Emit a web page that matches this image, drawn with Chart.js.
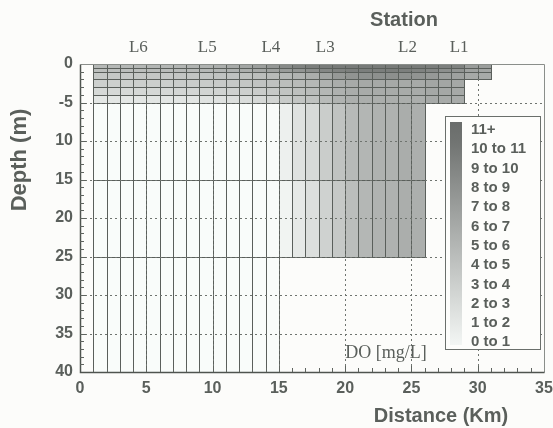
<!DOCTYPE html>
<html>
<head>
<meta charset="utf-8">
<script src="https://cdn.jsdelivr.net/npm/chart.js@4.4.0/dist/chart.umd.min.js"></script>
<style>
  html, body { margin: 0; padding: 0; background: #fcfcfa; }
  #wrap { width: 553px; height: 428px; }
</style>
</head>
<body>
<div id="wrap"><canvas id="chart" width="553" height="428"></canvas></div>
<script>
// column edges along the river (km) and layer edges (m)
const kmEdges = [1, 2, 3, 4, 5, 6, 7, 8, 9, 10, 11, 12, 13, 14, 15, 16, 17, 18, 19, 20, 21, 22, 23, 24, 25, 26, 27, 28, 29, 30, 31];
const layerTops = [0, 0.5, 1, 2, 3, 4, 5, 15, 25];
const layerBottoms = [0.5, 1, 2, 3, 4, 5, 15, 25, 40];

// DO (mg/L) per layer, one value per column (km 1-2 ... km 30-31), null = no cell
const do0to05 = [5.2, 5.2, 5.3, 5.3, 5.4, 5.4, 5.5, 5.6, 5.7, 6.0, 6.3, 6.7, 7.2, 7.8, 8.8, 9.4, 9.7, 9.9, 10.0, 10.0, 10.0, 10.0, 10.0, 10.0, 9.9, 9.8, 9.6, 9.4, 7.4, 7.2];
const do05to1 = [4.7, 4.7, 4.8, 4.8, 4.9, 4.9, 5.0, 5.1, 5.2, 5.4, 5.7, 6.0, 6.4, 6.9, 7.5, 7.9, 8.4, 9.0, 9.4, 9.6, 9.7, 9.7, 9.7, 9.6, 9.4, 9.0, 8.4, 8.0, 6.9, 6.7];
const do1to2 = [4.0, 4.0, 4.0, 4.1, 4.1, 4.1, 4.2, 4.2, 4.3, 4.4, 4.5, 4.6, 4.8, 5.0, 5.3, 5.6, 6.0, 6.8, 7.6, 8.0, 8.2, 8.3, 8.3, 8.2, 8.0, 7.6, 7.2, 7.0, 6.4, 6.3];
const do2to3 = [3.4, 3.4, 3.4, 3.5, 3.5, 3.5, 3.6, 3.6, 3.7, 3.8, 3.9, 4.1, 4.3, 4.5, 4.8, 5.0, 5.2, 5.6, 6.1, 6.3, 6.4, 6.4, 6.4, 6.3, 6.3, 6.6, 6.6, 6.5, null, null];
const do3to4 = [2.7, 2.7, 2.7, 2.8, 2.8, 2.8, 2.9, 2.9, 3.0, 3.1, 3.2, 3.4, 3.6, 3.9, 4.3, 4.6, 4.9, 5.3, 5.8, 6.1, 6.2, 6.2, 6.2, 6.2, 6.2, 6.5, 6.5, 6.4, null, null];
const do4to5 = [1.6, 1.6, 1.6, 1.7, 1.7, 1.7, 1.8, 1.8, 1.9, 2.0, 2.2, 2.4, 2.7, 3.1, 3.8, 4.2, 4.5, 5.0, 5.6, 5.9, 6.0, 6.0, 6.0, 6.0, 6.0, 6.3, 6.3, 6.2, null, null];
const do5to15 = [0.0, 0.0, 0.0, 0.0, 0.0, 0.0, 0.0, 0.0, 0.0, 0.0, 0.0, 0.0, 0.0, 0.1, 0.9, 2.0, 2.6, 3.6, 4.4, 5.1, 5.4, 5.7, 5.7, 6.1, 5.9, null, null, null, null, null];
const do15to25 = [0.0, 0.0, 0.0, 0.0, 0.0, 0.0, 0.0, 0.0, 0.0, 0.0, 0.0, 0.0, 0.0, 0.1, 0.6, 1.5, 2.2, 3.2, 3.9, 4.8, 5.3, 5.6, 5.7, 6.0, 5.9, null, null, null, null, null];
const do25to40 = [0.0, 0.0, 0.0, 0.0, 0.0, 0.0, 0.0, 0.0, 0.0, 0.0, 0.0, 0.0, 0.0, 0.0, null, null, null, null, null, null, null, null, null, null, null, null, null, null, null, null];
const doLayers = [do0to05, do05to1, do1to2, do2to3, do3to4, do4to5, do5to15, do15to25, do25to40];

const stationNames = ['L6', 'L5', 'L4', 'L3', 'L2', 'L1'];
const stationKm = [4.4, 9.6, 14.4, 18.5, 24.7, 28.6];

const depthTicks = [0, 5, 10, 15, 20, 25, 30, 35, 40];
const depthTickText = ['0', '-5', '10', '15', '20', '25', '30', '35', '40'];

const legendLabels = ['11+', '10 to 11', '9 to 10', '8 to 9', '7 to 8', '6 to 7', '5 to 6', '4 to 5', '3 to 4', '2 to 3', '1 to 2', '0 to 1'];

const SANS = '"Liberation Sans", Arial, sans-serif';
const SERIF = '"Liberation Serif", "Times New Roman", serif';
const TEXT = '#5a5f5b';
const LINE = '#5a5f5b';

function doColor(v) {
  const g = Math.round(252 - 13 * Math.min(v, 11));
  return `rgb(${g - 3},${g},${g - 2})`;
}

const sectionPlugin = {
  id: 'doSection',
  beforeDraw(chart) {
    const ctx = chart.ctx;
    ctx.save();
    ctx.fillStyle = '#fcfcfa';
    ctx.fillRect(0, 0, chart.width, chart.height);
    ctx.restore();
  },
  beforeDatasetsDraw(chart) {
    const { ctx, chartArea: a, scales: { x, y } } = chart;
    const px = v => Math.round(x.getPixelForValue(v)) + 0.5;
    const py = v => Math.round(y.getPixelForValue(v)) + 0.5;
    ctx.save();

    // cells
    doLayers.forEach((row, li) => {
      const t = py(layerTops[li]), b = py(layerBottoms[li]);
      row.forEach((v, ci) => {
        if (v === null) return;
        const l = px(kmEdges[ci]), r = px(kmEdges[ci + 1]);
        ctx.fillStyle = doColor(v);
        ctx.fillRect(l, t, r - l, b - t);
      });
    });
    // cell outlines
    ctx.strokeStyle = LINE;
    ctx.lineWidth = 1;
    doLayers.forEach((row, li) => {
      const t = py(layerTops[li]), b = py(layerBottoms[li]);
      row.forEach((v, ci) => {
        if (v === null) return;
        const l = px(kmEdges[ci]), r = px(kmEdges[ci + 1]);
        ctx.strokeRect(l, t, r - l, b - t);
      });
    });

    // dotted major grid
    ctx.strokeStyle = '#6f746f';
    ctx.setLineDash([2, 3]);
    for (let d = 5; d < 40; d += 5) {
      ctx.beginPath(); ctx.moveTo(a.left, py(d)); ctx.lineTo(a.right, py(d)); ctx.stroke();
    }
    for (let k = 5; k < 35; k += 5) {
      ctx.beginPath(); ctx.moveTo(px(k), a.top); ctx.lineTo(px(k), a.bottom); ctx.stroke();
    }
    ctx.setLineDash([]);

    // frame
    ctx.strokeStyle = '#8a8e8a';
    ctx.beginPath();
    ctx.moveTo(px(0), py(0)); ctx.lineTo(px(35), py(0)); ctx.lineTo(px(35), py(40));
    ctx.stroke();
    ctx.strokeStyle = '#4f544f';
    ctx.lineWidth = 1.5;
    ctx.beginPath();
    ctx.moveTo(px(0), py(0)); ctx.lineTo(px(0), py(40)); ctx.lineTo(px(35), py(40));
    ctx.stroke();

    // inner minor ticks
    ctx.lineWidth = 1;
    ctx.strokeStyle = '#5f645f';
    for (let d = 1; d < 40; d++) {
      const len = d % 5 === 0 ? 6 : 4;
      ctx.beginPath(); ctx.moveTo(a.left, py(d)); ctx.lineTo(a.left + len, py(d)); ctx.stroke();
    }
    for (let k = 1; k < 35; k++) {
      const len = k % 5 === 0 ? 6 : 4;
      ctx.beginPath(); ctx.moveTo(px(k), a.bottom); ctx.lineTo(px(k), a.bottom - len); ctx.stroke();
    }

    // legend
    const lx = 445, ly = 116, lw = 95, lh = 233;
    ctx.fillStyle = '#fdfdfb';
    ctx.fillRect(lx, ly, lw, lh);
    ctx.strokeStyle = '#6a6f6b';
    ctx.strokeRect(lx + 0.5, ly + 0.5, lw, lh);
    const barTop = 122, barBot = 345;
    const grad = ctx.createLinearGradient(0, barTop, 0, barBot);
    legendLabels.forEach((lab, i) => {
      grad.addColorStop(i / (legendLabels.length - 1), doColor(11.5 - i));
    });
    ctx.fillStyle = grad;
    ctx.fillRect(450, barTop, 12, barBot - barTop);
    ctx.fillStyle = TEXT;
    ctx.font = `bold 15px ${SANS}`;
    ctx.textAlign = 'left';
    ctx.textBaseline = 'middle';
    legendLabels.forEach((lab, i) => {
      ctx.fillText(lab, 471, 130 + i * 19.3);
    });

    // DO [mg/L]
    ctx.font = `18px ${SERIF}`;
    ctx.textAlign = 'center';
    ctx.fillText('DO [mg/L]', 386, 353);

    // stations
    ctx.font = `17px ${SERIF}`;
    stationNames.forEach((s, i) => {
      ctx.fillText(s, x.getPixelForValue(stationKm[i]), 48);
    });

    // titles
    ctx.font = `bold 20px ${SANS}`;
    ctx.fillText('Station', 404, 20);
    ctx.fillText('Distance (Km)', 441, 416);
    ctx.font = `bold 22px ${SANS}`;
    ctx.translate(20, 160);
    ctx.rotate(-Math.PI / 2);
    ctx.fillText('Depth (m)', 0, 0);
    ctx.restore();
  }
};

new Chart(document.getElementById('chart'), {
  type: 'scatter',
  data: { datasets: [] },
  options: {
    responsive: false,
    animation: false,
    layout: { padding: { top: 64, right: 9, left: 0, bottom: 0 } },
    plugins: { legend: { display: false }, tooltip: { enabled: false } },
    scales: {
      x: {
        type: 'linear', position: 'bottom', min: 0, max: 35,
        grid: { display: false, drawTicks: false },
        border: { display: false },
        ticks: { stepSize: 5, padding: 7, color: TEXT, font: { family: SANS, size: 16, weight: 'bold' } },
        afterFit: s => { s.height = 56; s.paddingLeft = 0; s.paddingRight = 0; }
      },
      y: {
        type: 'linear', reverse: true, min: 0, max: 40,
        grid: { display: false, drawTicks: false },
        border: { display: false },
        afterBuildTicks: s => { s.ticks = depthTicks.map(v => ({ value: v })); },
        ticks: {
          padding: 7, color: TEXT, font: { family: SANS, size: 16, weight: 'bold' },
          callback: v => depthTickText[depthTicks.indexOf(v)]
        },
        afterFit: s => { s.width = 80; s.paddingTop = 0; s.paddingBottom = 0; }
      }
    }
  },
  plugins: [sectionPlugin]
});
</script>
</body>
</html>
